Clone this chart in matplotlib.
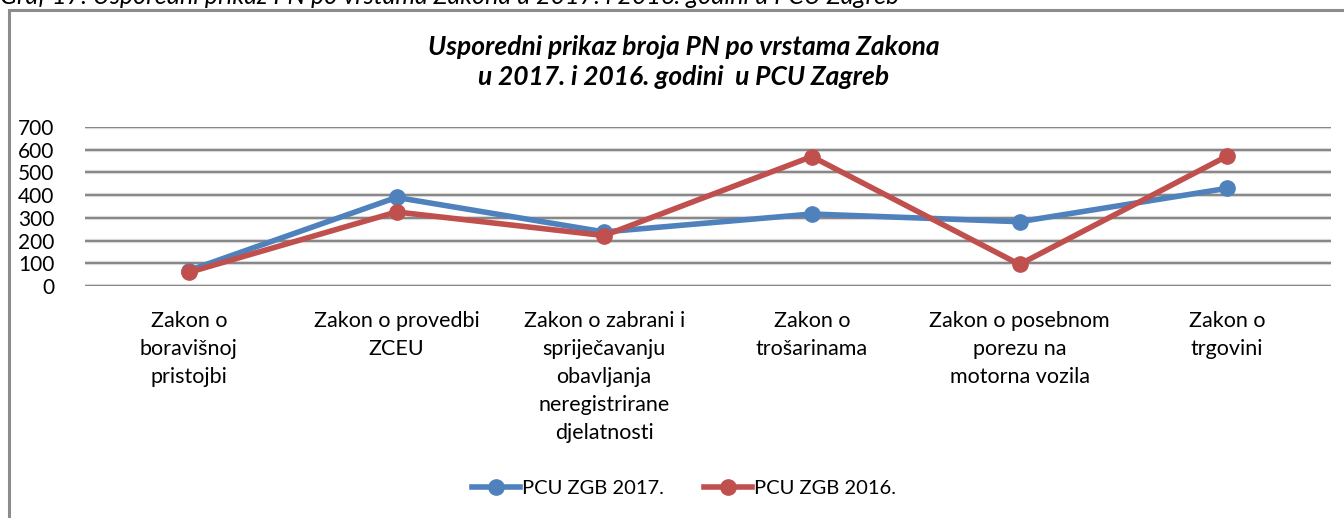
import numpy as np
import matplotlib.pyplot as plt
from matplotlib.patches import Rectangle
from matplotlib.lines import Line2D

plt.rcParams['font.family'] = ['Lato', 'DejaVu Sans']

categories = ["Zakon o\nboravišnoj\npristojbi",
              "Zakon o provedbi\nZCEU",
              "Zakon o zabrani i\nspriječavanju\nobavljanja\nneregistrirane\ndjelatnosti",
              "Zakon o\ntrošarinama",
              "Zakon o posebnom\nporezu na\nmotorna vozila",
              "Zakon o\ntrgovini"]
pcu_2017 = [68, 390, 238, 317, 283, 430]
pcu_2016 = [60, 326, 222, 570, 95, 572]
yticks = [0, 100, 200, 300, 400, 500, 600, 700]

W, H = 1344, 518
fig = plt.figure(figsize=(W / 100, H / 100), dpi=100)

# outer chart border
fig.patches.append(Rectangle((9 / W, -0.1), 1.2, (H - 10) / H + 0.1, transform=fig.transFigure,
                             fill=False, edgecolor="#8c8c8c", lw=2.2))
fig.text(0.0, (H - 4) / H, "Graf 17. Usporedni prikaz PN po vrstama Zakona u 2017. i 2016. godini u PCU Zagreb",
         fontsize=18, style="italic", va="baseline", ha="left", color="black")

ax = fig.add_axes([85 / W, (H - 286) / H, (1331 - 85) / W, (286 - 127) / H])
x = np.arange(len(categories))
ax.set_xlim(-0.5, len(categories) - 0.5)
ax.set_ylim(0, 700)
for v in yticks:
    ax.axhline(v, color="#d9d9d9", lw=3.0, zorder=0)
    ax.axhline(v, color="#868686", lw=1.4, zorder=0)

ax.plot(x, pcu_2017, color="#4F81BD", lw=4, marker="o", ms=11, zorder=3)
ax.plot(x, pcu_2016, color="#C0504D", lw=4, marker="o", ms=11, zorder=4)

for s in ax.spines.values():
    s.set_visible(False)
ax.set_yticks(yticks)
ax.set_yticklabels([str(v) for v in yticks], fontsize=15)
ax.tick_params(axis="y", length=0, pad=22)
ax.set_xticks(x)
ax.set_xticklabels(categories, fontsize=15.5, linespacing=1.5)
ax.tick_params(axis="x", length=0, pad=18)

fig.text(684 / W, (H - 47) / H, "Usporedni prikaz broja PN po vrstama Zakona",
         fontsize=19, fontweight="bold", style="italic", ha="center", va="center")
fig.text(684 / W, (H - 77) / H, "u 2017. i 2016. godini  u PCU Zagreb",
         fontsize=19, fontweight="bold", style="italic", ha="center", va="center")

handles = [Line2D([], [], color="#4F81BD", lw=4, marker="o", ms=11),
           Line2D([], [], color="#C0504D", lw=4, marker="o", ms=11)]
fig.legend(handles, ["PCU ZGB 2017.", "PCU ZGB 2016."], loc="center",
           bbox_to_anchor=(684 / W, (H - 488) / H), ncol=2, frameon=False,
           fontsize=14.5, handlelength=2.4, handletextpad=0.1, columnspacing=2.0)

fig.savefig("out.png", dpi=100)
